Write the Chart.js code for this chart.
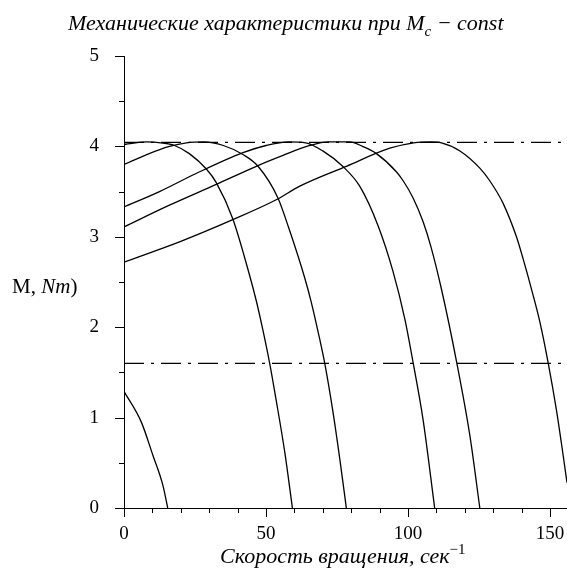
<!DOCTYPE html>
<html>
<head>
<meta charset="utf-8">
<script src="https://cdn.jsdelivr.net/npm/chart.js@4.4.1/dist/chart.umd.min.js"></script>
<style>
  body { margin: 0; background: #fff; }
  #wrap { position: relative; width: 567px; height: 572px; overflow: hidden; }
  #chart { position: absolute; left: 0; top: 0; }
  .lbl { position: absolute; font-family: 'Liberation Serif', serif; font-size: 22px; line-height: 20px; color: #000; white-space: nowrap; }
  .lbl sub { font-size: 15px; vertical-align: -6px; line-height: 0; }
  .lbl sup { font-size: 15px; vertical-align: 9px; line-height: 0; }
</style>
</head>
<body>
<div id="wrap">
  <canvas id="chart" width="567" height="572"></canvas>
  <div class="lbl" id="title" style="left:68px; top:13px; font-style:italic;">Механические характеристики при M<sub>c</sub> − const</div>
  <div class="lbl" id="ylabel" style="left:12px; top:276px; font-size:21px;">M, <i>Nm</i>)</div>
  <div class="lbl" id="xlabel" style="left:220px; top:546px; font-style:italic;">Скорость вращения, сек<sup style="font-style:normal">−1</sup></div>
</div>
<script>
// скорость (сек^-1) и момент (Nm) для каждой характеристики
const speed16 = [0, 6.1, 10.2, 13.7, 15.4];
const torque16 = [1.29, 0.95, 0.58, 0.25, 0];

const speed60 = [0, 4, 8, 13, 17.8, 23, 29, 32.5, 38.3, 44, 46.6, 48.9, 51.3, 53.6, 56.6, 59.3];
const torque60 = [4.02, 4.04, 4.05, 4.04, 4.01, 3.92, 3.75, 3.6, 3.2, 2.6, 2.29, 1.97, 1.6, 1.19, 0.62, 0];

const speed78 = [0, 8, 16, 22, 28, 35, 41.9, 47.2, 54.2, 58, 63.6, 66, 68.9, 70.7, 73.6, 76, 78.3];
const torque78 = [3.8, 3.91, 4.0, 4.04, 4.05, 4.01, 3.91, 3.78, 3.43, 3.1, 2.55, 2.27, 1.87, 1.6, 1.06, 0.54, 0];

const speed110 = [0, 12.5, 25.4, 41.9, 50, 58, 64, 70, 77, 83, 89.5, 94.7, 98.9, 101.8, 105.3, 109.4];
const torque110 = [3.33, 3.5, 3.7, 3.93, 4.01, 4.05, 4.04, 3.95, 3.78, 3.56, 3.12, 2.62, 2.09, 1.61, 0.98, 0];

const speed125 = [0, 16, 32.5, 46.6, 56, 65.4, 72, 79.5, 84, 88.9, 95.9, 98.3, 101.8, 105.3, 108, 111.8, 117.1, 121.8, 125.3];
const torque125 = [3.11, 3.35, 3.58, 3.78, 3.9, 4.01, 4.05, 4.05, 4.0, 3.92, 3.72, 3.62, 3.43, 3.17, 2.9, 2.42, 1.62, 0.8, 0];

const speed157 = [0, 20, 38.3, 53.6, 61.9, 78.3, 93.6, 102, 108, 111.8, 118.3, 125.3, 128.8, 133.5, 138.2, 140.6, 144.1, 146.5, 149.4, 152.3, 154.2, 156, 157.2];
const torque157 = [2.72, 2.95, 3.19, 3.41, 3.56, 3.78, 3.98, 4.04, 4.05, 4.04, 3.95, 3.76, 3.62, 3.37, 3.0, 2.75, 2.35, 2.05, 1.6, 1.08, 0.68, 0.28, 0];

// горизонтальные уровни (штрих-пунктир)
const levelMax = 4.045;
const levelMc = 1.6;

const xTickLabels = [0, 50, 100, 150];
const yTickLabels = [0, 1, 2, 3, 4, 5];
const xMinorStep = 10;
const yMinorStep = 0.5;

const xMin = 0, xMax = 156;
const yMin = 0, yMax = 5;

const toPoints = (xs, ys) => xs.map((x, i) => ({ x: x, y: ys[i] }));

const curve = (xs, ys) => ({
  data: toPoints(xs, ys),
  borderColor: '#000',
  borderWidth: 1.3,
  pointRadius: 0,
  cubicInterpolationMode: 'monotone',
  fill: false
});

const level = (y) => ({
  data: [{ x: xMin, y: y }, { x: xMax, y: y }],
  borderColor: '#000',
  borderWidth: 1.3,
  borderDash: [20, 7, 3, 7],
  pointRadius: 0,
  fill: false
});

const tickMarks = {
  id: 'tickMarks',
  afterDraw(chart) {
    const { ctx, chartArea, scales: { x, y } } = chart;
    ctx.save();
    ctx.strokeStyle = '#000';
    ctx.lineWidth = 1;
    ctx.beginPath();
    for (let v = xMin; v <= xMax; v += xMinorStep) {
      const px = Math.round(x.getPixelForValue(v)) + 0.5;
      const len = xTickLabels.includes(v) ? 9 : 5;
      ctx.moveTo(px, chartArea.bottom);
      ctx.lineTo(px, chartArea.bottom + len);
    }
    for (let v = yMin; v <= yMax + 1e-9; v += yMinorStep) {
      const py = Math.round(y.getPixelForValue(v)) + 0.5;
      const len = yTickLabels.includes(v) ? 9 : 5;
      ctx.moveTo(chartArea.left, py);
      ctx.lineTo(chartArea.left - len, py);
    }
    ctx.stroke();
    ctx.restore();
  }
};

new Chart(document.getElementById('chart'), {
  type: 'scatter',
  data: {
    datasets: [
      curve(speed16, torque16),
      curve(speed60, torque60),
      curve(speed78, torque78),
      curve(speed110, torque110),
      curve(speed125, torque125),
      curve(speed157, torque157),
      level(levelMax),
      level(levelMc)
    ].map(d => Object.assign(d, { showLine: true }))
  },
  options: {
    responsive: false,
    animation: false,
    devicePixelRatio: 1,
    layout: { padding: { top: 56, right: 0, left: 0, bottom: 0 } },
    plugins: { legend: { display: false }, tooltip: { enabled: false } },
    scales: {
      x: {
        type: 'linear',
        min: xMin,
        max: xMax,
        afterFit: s => { s.height = 64; s.paddingRight = 0; s.paddingLeft = 0; },
        grid: { display: false },
        border: { display: true, color: '#000', width: 1 },
        ticks: {
          stepSize: xMinorStep,
          includeBounds: false,
          autoSkip: false,
          maxRotation: 0,
          padding: 7,
          color: '#000',
          font: { family: 'Liberation Serif', size: 19 },
          callback: v => xTickLabels.includes(v) ? v : ''
        }
      },
      y: {
        type: 'linear',
        min: yMin,
        max: yMax,
        afterFit: s => { s.width = 124; s.paddingTop = 0; s.paddingBottom = 0; },
        grid: { display: false },
        border: { display: true, color: '#000', width: 1 },
        ticks: {
          stepSize: yMinorStep,
          autoSkip: false,
          padding: 17,
          color: '#000',
          font: { family: 'Liberation Serif', size: 19 },
          callback: v => yTickLabels.includes(v) ? v : ''
        }
      }
    }
  },
  plugins: [tickMarks]
});
</script>
</body>
</html>
